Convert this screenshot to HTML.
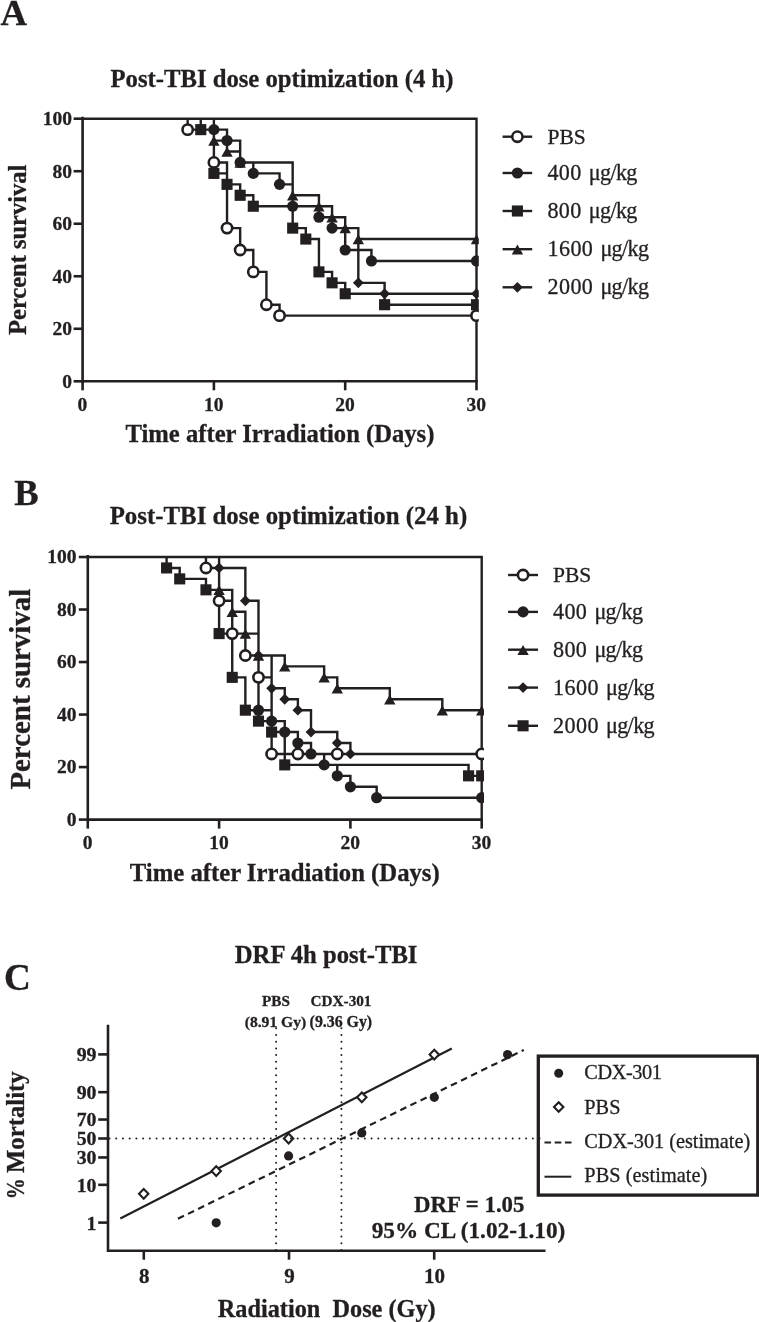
<!DOCTYPE html>
<html lang="en"><head><meta charset="utf-8"><title>Figure</title>
<style>
html,body{margin:0;padding:0;background:#fff;}
body{width:759px;height:1322px;overflow:hidden;font-family:"Liberation Serif", serif;}
svg{display:block;will-change:transform;}
text{font-family:"Liberation Serif", serif;fill:#231f20;white-space:pre;stroke:#231f20;stroke-width:0.3px;}
</style></head><body>
<svg width="759" height="1322" viewBox="0 0 759 1322">
<rect width="759" height="1322" fill="#fff"/>

<text x="0.40" y="25.20" style="font-size:36.80px;font-weight:bold">A</text>
<text x="14.20" y="504.70" style="font-size:36.60px;font-weight:bold">B</text>
<text x="4.00" y="989.60" style="font-size:37.20px;font-weight:bold">C</text>
<text x="110.50" y="87.00" style="font-size:24.70px;font-weight:bold">Post-TBI dose optimization (4 h)</text>
<path d="M82.60 118.70 H213.90 V140.58 H227.03 V151.53 H240.16 V162.47 H292.68 V195.29 H318.94 V206.23 H332.07 V217.18 H345.20 V228.12 H358.33 V282.83 H384.59 V293.77 H476.50 M82.60 118.70 H213.90 V140.58 H227.03 V151.53 H240.16 V162.47 H292.68 V195.29 H318.94 V206.23 H332.07 V217.18 H345.20 V228.12 H358.33 V239.06 H476.50 M82.60 118.70 H200.77 V129.64 H213.90 V173.41 H227.03 V184.35 H240.16 V195.29 H253.29 V206.23 H292.68 V228.12 H305.81 V239.06 H318.94 V271.88 H332.07 V282.83 H345.20 V293.77 H384.59 V304.71 H476.50 M82.60 118.70 H213.90 V129.64 H227.03 V140.58 H240.16 V162.47 H253.29 V173.41 H279.55 V184.35 H292.68 V206.23 H318.94 V217.18 H332.07 V228.12 H345.20 V250.00 H371.46 V260.94 H476.50 M82.60 118.70 H187.64 V129.64 H213.90 V162.47 H227.03 V228.12 H240.16 V250.00 H253.29 V271.88 H266.42 V304.71 H279.55 V315.65 H476.50 M82.60 118.70 H476.50 V381.30" fill="none" stroke="#231f20" stroke-width="2.4" stroke-linejoin="miter"/>
<clipPath id="cp1"><rect x="52.60" y="98.70" width="426.20" height="302.60"/></clipPath>
<g clip-path="url(#cp1)">
<path d="M358.33 277.43 L363.73 282.83 L358.33 288.23 L352.93 282.83Z" fill="#231f20"/>
<path d="M384.59 288.37 L389.99 293.77 L384.59 299.17 L379.19 293.77Z" fill="#231f20"/>
<path d="M476.50 288.37 L481.90 293.77 L476.50 299.17 L471.10 293.77Z" fill="#231f20"/>
<path d="M213.90 135.78 L219.60 145.78 L208.20 145.78Z" fill="#231f20"/>
<path d="M227.03 146.72 L232.73 156.72 L221.33 156.72Z" fill="#231f20"/>
<path d="M240.16 157.67 L245.86 167.67 L234.46 167.67Z" fill="#231f20"/>
<path d="M292.68 190.49 L298.38 200.49 L286.98 200.49Z" fill="#231f20"/>
<path d="M318.94 201.43 L324.64 211.43 L313.24 211.43Z" fill="#231f20"/>
<path d="M332.07 212.38 L337.77 222.38 L326.37 222.38Z" fill="#231f20"/>
<path d="M345.20 223.32 L350.90 233.32 L339.50 233.32Z" fill="#231f20"/>
<path d="M358.33 234.26 L364.03 244.26 L352.63 244.26Z" fill="#231f20"/>
<path d="M476.50 234.26 L482.20 244.26 L470.80 244.26Z" fill="#231f20"/>
<rect x="195.22" y="124.09" width="11.1" height="11.1" fill="#231f20"/>
<rect x="208.35" y="167.86" width="11.1" height="11.1" fill="#231f20"/>
<rect x="221.48" y="178.80" width="11.1" height="11.1" fill="#231f20"/>
<rect x="234.61" y="189.74" width="11.1" height="11.1" fill="#231f20"/>
<rect x="247.74" y="200.68" width="11.1" height="11.1" fill="#231f20"/>
<rect x="287.13" y="222.57" width="11.1" height="11.1" fill="#231f20"/>
<rect x="300.26" y="233.51" width="11.1" height="11.1" fill="#231f20"/>
<rect x="313.39" y="266.33" width="11.1" height="11.1" fill="#231f20"/>
<rect x="326.52" y="277.28" width="11.1" height="11.1" fill="#231f20"/>
<rect x="339.65" y="288.22" width="11.1" height="11.1" fill="#231f20"/>
<rect x="379.04" y="299.16" width="11.1" height="11.1" fill="#231f20"/>
<rect x="470.95" y="299.16" width="11.1" height="11.1" fill="#231f20"/>
<circle cx="213.90" cy="129.64" r="5.6" fill="#231f20"/>
<circle cx="227.03" cy="140.58" r="5.6" fill="#231f20"/>
<circle cx="240.16" cy="162.47" r="5.6" fill="#231f20"/>
<circle cx="253.29" cy="173.41" r="5.6" fill="#231f20"/>
<circle cx="279.55" cy="184.35" r="5.6" fill="#231f20"/>
<circle cx="292.68" cy="206.23" r="5.6" fill="#231f20"/>
<circle cx="318.94" cy="217.18" r="5.6" fill="#231f20"/>
<circle cx="332.07" cy="228.12" r="5.6" fill="#231f20"/>
<circle cx="345.20" cy="250.00" r="5.6" fill="#231f20"/>
<circle cx="371.46" cy="260.94" r="5.6" fill="#231f20"/>
<circle cx="476.50" cy="260.94" r="5.6" fill="#231f20"/>
<circle cx="187.64" cy="129.64" r="5.15" fill="#fff" stroke="#231f20" stroke-width="2.6"/>
<circle cx="213.90" cy="162.47" r="5.15" fill="#fff" stroke="#231f20" stroke-width="2.6"/>
<circle cx="227.03" cy="228.12" r="5.15" fill="#fff" stroke="#231f20" stroke-width="2.6"/>
<circle cx="240.16" cy="250.00" r="5.15" fill="#fff" stroke="#231f20" stroke-width="2.6"/>
<circle cx="253.29" cy="271.88" r="5.15" fill="#fff" stroke="#231f20" stroke-width="2.6"/>
<circle cx="266.42" cy="304.71" r="5.15" fill="#fff" stroke="#231f20" stroke-width="2.6"/>
<circle cx="279.55" cy="315.65" r="5.15" fill="#fff" stroke="#231f20" stroke-width="2.6"/>
<circle cx="476.50" cy="315.65" r="5.15" fill="#fff" stroke="#231f20" stroke-width="2.6"/>
</g>
<path d="M82.60 116.70 V381.30 H477.70" fill="none" stroke="#231f20" stroke-width="2.6" stroke-linejoin="miter"/>
<path d="M73.60 381.30 H82.60" stroke="#231f20" stroke-width="2.6"/>
<text x="62.35" y="387.70" style="font-size:19.50px;font-weight:bold">0</text>
<path d="M73.60 328.78 H82.60" stroke="#231f20" stroke-width="2.6"/>
<text x="52.60" y="335.18" style="font-size:19.50px;font-weight:bold">20</text>
<path d="M73.60 276.26 H82.60" stroke="#231f20" stroke-width="2.6"/>
<text x="52.60" y="282.66" style="font-size:19.50px;font-weight:bold">40</text>
<path d="M73.60 223.74 H82.60" stroke="#231f20" stroke-width="2.6"/>
<text x="52.60" y="230.14" style="font-size:19.50px;font-weight:bold">60</text>
<path d="M73.60 171.22 H82.60" stroke="#231f20" stroke-width="2.6"/>
<text x="52.60" y="177.62" style="font-size:19.50px;font-weight:bold">80</text>
<path d="M73.60 118.70 H82.60" stroke="#231f20" stroke-width="2.6"/>
<text x="42.85" y="125.10" style="font-size:19.50px;font-weight:bold">100</text>
<path d="M82.60 381.30 v9" stroke="#231f20" stroke-width="2.6"/>
<text x="77.52" y="411.30" style="font-size:19.50px;font-weight:bold">0</text>
<path d="M213.90 381.30 v9" stroke="#231f20" stroke-width="2.6"/>
<text x="203.95" y="411.30" style="font-size:19.50px;font-weight:bold">10</text>
<path d="M345.20 381.30 v9" stroke="#231f20" stroke-width="2.6"/>
<text x="335.25" y="411.30" style="font-size:19.50px;font-weight:bold">20</text>
<path d="M476.50 381.30 v9" stroke="#231f20" stroke-width="2.6"/>
<text x="466.55" y="411.30" style="font-size:19.50px;font-weight:bold">30</text>
<text transform="translate(26.00,334.90) rotate(-90)" style="font-size:24.48px;font-weight:bold">Percent survival</text>
<text x="125.50" y="442.40" style="font-size:24.63px;font-weight:bold">Time after Irradiation (Days)</text>
<path d="M502.6 136.7 H532.2" stroke="#231f20" stroke-width="2.4"/>
<circle cx="517.40" cy="136.70" r="5.15" fill="#fff" stroke="#231f20" stroke-width="2.6"/>
<text x="547.50" y="143.60" style="font-size:21.53px;font-weight:normal">PBS</text>
<path d="M502.6 173.0 H532.2" stroke="#231f20" stroke-width="2.4"/>
<circle cx="517.40" cy="173.00" r="5.6" fill="#231f20"/>
<text x="547.50" y="179.90" style="font-size:22.10px;font-weight:normal;letter-spacing:0.325px">400</text>
<text x="588.80" y="179.90" style="font-size:22.10px;font-weight:normal;letter-spacing:-0.635px">μg/kg</text>
<path d="M502.6 211 H532.2" stroke="#231f20" stroke-width="2.4"/>
<rect x="511.85" y="205.45" width="11.1" height="11.1" fill="#231f20"/>
<text x="547.50" y="217.90" style="font-size:22.10px;font-weight:normal;letter-spacing:0.325px">800</text>
<text x="588.80" y="217.90" style="font-size:22.10px;font-weight:normal;letter-spacing:-0.635px">μg/kg</text>
<path d="M502.6 249.2 H532.2" stroke="#231f20" stroke-width="2.4"/>
<path d="M517.40 244.40 L523.10 254.40 L511.70 254.40Z" fill="#231f20"/>
<text x="547.50" y="256.10" style="font-size:22.10px;font-weight:normal;letter-spacing:0.400px">1600</text>
<text x="600.40" y="256.10" style="font-size:22.10px;font-weight:normal;letter-spacing:-0.635px">μg/kg</text>
<path d="M502.6 287.3 H532.2" stroke="#231f20" stroke-width="2.4"/>
<path d="M517.40 281.90 L522.80 287.30 L517.40 292.70 L512.00 287.30Z" fill="#231f20"/>
<text x="547.50" y="294.20" style="font-size:22.10px;font-weight:normal;letter-spacing:0.400px">2000</text>
<text x="600.40" y="294.20" style="font-size:22.10px;font-weight:normal;letter-spacing:-0.635px">μg/kg</text>
<text x="109.70" y="524.30" style="font-size:24.85px;font-weight:bold">Post-TBI dose optimization (24 h)</text>
<path d="M87.80 557.00 H166.58 V567.94 H179.71 V578.88 H205.97 V589.83 H219.10 V633.59 H232.23 V677.36 H245.36 V710.18 H258.49 V721.12 H271.62 V732.07 H284.75 V764.89 H468.57 V775.83 H481.70 M87.80 557.00 H219.10 V567.94 H245.36 V600.77 H258.49 V655.48 H271.62 V688.30 H284.75 V699.24 H297.88 V710.18 H311.01 V732.07 H337.27 V743.01 H350.40 V753.95 H481.70 M87.80 557.00 H219.10 V589.83 H232.23 V611.71 H245.36 V633.59 H258.49 V655.48 H284.75 V666.42 H324.14 V677.36 H337.27 V688.30 H389.79 V699.24 H442.31 V710.18 H481.70 M87.80 557.00 H219.10 V567.94 H245.36 V600.77 H258.49 V710.18 H271.62 V721.12 H284.75 V732.07 H297.88 V743.01 H311.01 V753.95 H324.14 V764.89 H337.27 V775.83 H350.40 V786.78 H376.66 V797.72 H481.70 M87.80 557.00 H205.97 V567.94 H219.10 V600.77 H232.23 V633.59 H245.36 V655.48 H258.49 V677.36 H271.62 V753.95 H297.88 H337.27 H481.70 M87.80 557.00 H481.70 V819.60" fill="none" stroke="#231f20" stroke-width="2.4" stroke-linejoin="miter"/>
<clipPath id="cp2"><rect x="57.80" y="537.00" width="426.20" height="302.60"/></clipPath>
<g clip-path="url(#cp2)">
<rect x="161.03" y="562.39" width="11.1" height="11.1" fill="#231f20"/>
<rect x="174.16" y="573.33" width="11.1" height="11.1" fill="#231f20"/>
<rect x="200.42" y="584.28" width="11.1" height="11.1" fill="#231f20"/>
<rect x="213.55" y="628.04" width="11.1" height="11.1" fill="#231f20"/>
<rect x="226.68" y="671.81" width="11.1" height="11.1" fill="#231f20"/>
<rect x="239.81" y="704.63" width="11.1" height="11.1" fill="#231f20"/>
<rect x="252.94" y="715.58" width="11.1" height="11.1" fill="#231f20"/>
<rect x="266.07" y="726.52" width="11.1" height="11.1" fill="#231f20"/>
<rect x="279.20" y="759.34" width="11.1" height="11.1" fill="#231f20"/>
<rect x="463.02" y="770.28" width="11.1" height="11.1" fill="#231f20"/>
<rect x="476.15" y="770.28" width="11.1" height="11.1" fill="#231f20"/>
<path d="M219.10 562.54 L224.50 567.94 L219.10 573.34 L213.70 567.94Z" fill="#231f20"/>
<path d="M245.36 595.37 L250.76 600.77 L245.36 606.17 L239.96 600.77Z" fill="#231f20"/>
<path d="M258.49 650.08 L263.89 655.48 L258.49 660.88 L253.09 655.48Z" fill="#231f20"/>
<path d="M271.62 682.90 L277.02 688.30 L271.62 693.70 L266.22 688.30Z" fill="#231f20"/>
<path d="M284.75 693.84 L290.15 699.24 L284.75 704.64 L279.35 699.24Z" fill="#231f20"/>
<path d="M297.88 704.78 L303.28 710.18 L297.88 715.58 L292.48 710.18Z" fill="#231f20"/>
<path d="M311.01 726.67 L316.41 732.07 L311.01 737.47 L305.61 732.07Z" fill="#231f20"/>
<path d="M337.27 737.61 L342.67 743.01 L337.27 748.41 L331.87 743.01Z" fill="#231f20"/>
<path d="M350.40 748.55 L355.80 753.95 L350.40 759.35 L345.00 753.95Z" fill="#231f20"/>
<path d="M481.70 748.55 L487.10 753.95 L481.70 759.35 L476.30 753.95Z" fill="#231f20"/>
<path d="M219.10 585.03 L224.80 595.03 L213.40 595.03Z" fill="#231f20"/>
<path d="M232.23 606.91 L237.93 616.91 L226.53 616.91Z" fill="#231f20"/>
<path d="M245.36 628.79 L251.06 638.79 L239.66 638.79Z" fill="#231f20"/>
<path d="M258.49 650.68 L264.19 660.68 L252.79 660.68Z" fill="#231f20"/>
<path d="M284.75 661.62 L290.45 671.62 L279.05 671.62Z" fill="#231f20"/>
<path d="M324.14 672.56 L329.84 682.56 L318.44 682.56Z" fill="#231f20"/>
<path d="M337.27 683.50 L342.97 693.50 L331.57 693.50Z" fill="#231f20"/>
<path d="M389.79 694.44 L395.49 704.44 L384.09 704.44Z" fill="#231f20"/>
<path d="M442.31 705.38 L448.01 715.38 L436.61 715.38Z" fill="#231f20"/>
<path d="M481.70 705.38 L487.40 715.38 L476.00 715.38Z" fill="#231f20"/>
<circle cx="258.49" cy="710.18" r="5.6" fill="#231f20"/>
<circle cx="271.62" cy="721.12" r="5.6" fill="#231f20"/>
<circle cx="284.75" cy="732.07" r="5.6" fill="#231f20"/>
<circle cx="297.88" cy="743.01" r="5.6" fill="#231f20"/>
<circle cx="311.01" cy="753.95" r="5.6" fill="#231f20"/>
<circle cx="324.14" cy="764.89" r="5.6" fill="#231f20"/>
<circle cx="337.27" cy="775.83" r="5.6" fill="#231f20"/>
<circle cx="350.40" cy="786.78" r="5.6" fill="#231f20"/>
<circle cx="376.66" cy="797.72" r="5.6" fill="#231f20"/>
<circle cx="481.70" cy="797.72" r="5.6" fill="#231f20"/>
<circle cx="205.97" cy="567.94" r="5.15" fill="#fff" stroke="#231f20" stroke-width="2.6"/>
<circle cx="219.10" cy="600.77" r="5.15" fill="#fff" stroke="#231f20" stroke-width="2.6"/>
<circle cx="232.23" cy="633.59" r="5.15" fill="#fff" stroke="#231f20" stroke-width="2.6"/>
<circle cx="245.36" cy="655.48" r="5.15" fill="#fff" stroke="#231f20" stroke-width="2.6"/>
<circle cx="258.49" cy="677.36" r="5.15" fill="#fff" stroke="#231f20" stroke-width="2.6"/>
<circle cx="271.62" cy="753.95" r="5.15" fill="#fff" stroke="#231f20" stroke-width="2.6"/>
<circle cx="297.88" cy="753.95" r="5.15" fill="#fff" stroke="#231f20" stroke-width="2.6"/>
<circle cx="337.27" cy="753.95" r="5.15" fill="#fff" stroke="#231f20" stroke-width="2.6"/>
<circle cx="481.70" cy="753.95" r="5.15" fill="#fff" stroke="#231f20" stroke-width="2.6"/>
</g>
<path d="M87.80 555.00 V819.60 H482.90" fill="none" stroke="#231f20" stroke-width="2.6" stroke-linejoin="miter"/>
<path d="M78.80 819.60 H87.80" stroke="#231f20" stroke-width="2.6"/>
<text x="66.85" y="826.00" style="font-size:19.50px;font-weight:bold">0</text>
<path d="M78.80 767.08 H87.80" stroke="#231f20" stroke-width="2.6"/>
<text x="57.10" y="773.48" style="font-size:19.50px;font-weight:bold">20</text>
<path d="M78.80 714.56 H87.80" stroke="#231f20" stroke-width="2.6"/>
<text x="57.10" y="720.96" style="font-size:19.50px;font-weight:bold">40</text>
<path d="M78.80 662.04 H87.80" stroke="#231f20" stroke-width="2.6"/>
<text x="57.10" y="668.44" style="font-size:19.50px;font-weight:bold">60</text>
<path d="M78.80 609.52 H87.80" stroke="#231f20" stroke-width="2.6"/>
<text x="57.10" y="615.92" style="font-size:19.50px;font-weight:bold">80</text>
<path d="M78.80 557.00 H87.80" stroke="#231f20" stroke-width="2.6"/>
<text x="47.35" y="563.40" style="font-size:19.50px;font-weight:bold">100</text>
<path d="M87.80 819.60 v9" stroke="#231f20" stroke-width="2.6"/>
<text x="82.72" y="849.30" style="font-size:19.50px;font-weight:bold">0</text>
<path d="M219.10 819.60 v9" stroke="#231f20" stroke-width="2.6"/>
<text x="209.15" y="849.30" style="font-size:19.50px;font-weight:bold">10</text>
<path d="M350.40 819.60 v9" stroke="#231f20" stroke-width="2.6"/>
<text x="340.45" y="849.30" style="font-size:19.50px;font-weight:bold">20</text>
<path d="M481.70 819.60 v9" stroke="#231f20" stroke-width="2.6"/>
<text x="471.75" y="849.30" style="font-size:19.50px;font-weight:bold">30</text>
<text transform="translate(29.90,789.60) rotate(-90)" style="font-size:28.90px;font-weight:bold">Percent survival</text>
<text x="129.80" y="881.30" style="font-size:24.71px;font-weight:bold">Time after Irradiation (Days)</text>
<path d="M508.1 575.0 H538" stroke="#231f20" stroke-width="2.4"/>
<circle cx="523.05" cy="575.00" r="5.15" fill="#fff" stroke="#231f20" stroke-width="2.6"/>
<text x="553.00" y="581.90" style="font-size:21.53px;font-weight:normal">PBS</text>
<path d="M508.1 611.9 H538" stroke="#231f20" stroke-width="2.4"/>
<circle cx="523.05" cy="611.90" r="5.6" fill="#231f20"/>
<text x="553.00" y="618.80" style="font-size:22.10px;font-weight:normal;letter-spacing:0.375px">400</text>
<text x="594.40" y="618.80" style="font-size:22.10px;font-weight:normal;letter-spacing:-0.635px">μg/kg</text>
<path d="M508.1 649.7 H538" stroke="#231f20" stroke-width="2.4"/>
<path d="M523.05 644.90 L528.75 654.90 L517.35 654.90Z" fill="#231f20"/>
<text x="553.00" y="656.60" style="font-size:22.10px;font-weight:normal;letter-spacing:0.375px">800</text>
<text x="594.40" y="656.60" style="font-size:22.10px;font-weight:normal;letter-spacing:-0.635px">μg/kg</text>
<path d="M508.1 687.6 H538" stroke="#231f20" stroke-width="2.4"/>
<path d="M523.05 682.20 L528.45 687.60 L523.05 693.00 L517.65 687.60Z" fill="#231f20"/>
<text x="553.00" y="694.50" style="font-size:22.10px;font-weight:normal;letter-spacing:0.433px">1600</text>
<text x="606.00" y="694.50" style="font-size:22.10px;font-weight:normal;letter-spacing:-0.635px">μg/kg</text>
<path d="M508.1 725.8 H538" stroke="#231f20" stroke-width="2.4"/>
<rect x="517.50" y="720.25" width="11.1" height="11.1" fill="#231f20"/>
<text x="553.00" y="732.70" style="font-size:22.10px;font-weight:normal;letter-spacing:0.433px">2000</text>
<text x="606.00" y="732.70" style="font-size:22.10px;font-weight:normal;letter-spacing:-0.635px">μg/kg</text>
<text x="234.80" y="962.90" style="font-size:24.67px;font-weight:bold">DRF 4h post-TBI</text>
<path d="M276.1 1250 V1022 M341.4 1250 V1022" fill="none" stroke="#231f20" stroke-width="2.0" stroke-linecap="round" stroke-dasharray="0.01 6.71"/>
<path d="M120.3 1218.5 L451.8 1048.5" stroke="#231f20" stroke-width="2.2" fill="none"/>
<path d="M177.9 1218.8 L523.8 1050" stroke="#231f20" stroke-width="2.2" fill="none" stroke-dasharray="6.7 4.55"/>
<path d="M108.0 1024.8 V1250.7 H545.5" fill="none" stroke="#231f20" stroke-width="2.6" stroke-linejoin="miter"/>
<path d="M98.2 1054.40 H108" stroke="#231f20" stroke-width="2.6"/>
<text x="76.70" y="1061.30" style="font-size:19.80px;font-weight:bold">99</text>
<path d="M98.2 1092.17 H108" stroke="#231f20" stroke-width="2.6"/>
<text x="76.70" y="1099.07" style="font-size:19.80px;font-weight:bold">90</text>
<path d="M98.2 1119.54 H108" stroke="#231f20" stroke-width="2.6"/>
<text x="76.70" y="1126.44" style="font-size:19.80px;font-weight:bold">70</text>
<path d="M98.2 1138.50 H108" stroke="#231f20" stroke-width="2.6"/>
<text x="76.70" y="1145.40" style="font-size:19.80px;font-weight:bold">50</text>
<path d="M98.2 1157.46 H108" stroke="#231f20" stroke-width="2.6"/>
<text x="76.70" y="1164.36" style="font-size:19.80px;font-weight:bold">30</text>
<path d="M98.2 1184.83 H108" stroke="#231f20" stroke-width="2.6"/>
<text x="76.70" y="1191.73" style="font-size:19.80px;font-weight:bold">10</text>
<path d="M98.2 1222.60 H108" stroke="#231f20" stroke-width="2.6"/>
<text x="86.60" y="1229.50" style="font-size:19.80px;font-weight:bold">1</text>
<path d="M143.80 1250.7 v9" stroke="#231f20" stroke-width="2.6"/>
<text x="138.95" y="1283.20" style="font-size:21.00px;font-weight:bold">8</text>
<path d="M289.00 1250.7 v9" stroke="#231f20" stroke-width="2.6"/>
<text x="284.15" y="1283.20" style="font-size:21.00px;font-weight:bold">9</text>
<path d="M434.20 1250.7 v9" stroke="#231f20" stroke-width="2.6"/>
<text x="424.10" y="1283.20" style="font-size:21.00px;font-weight:bold">10</text>
<path d="M143.70 1188.90 L148.40 1193.80 L143.70 1198.70 L139.00 1193.80Z" fill="#fff" stroke="#231f20" stroke-width="2.1"/>
<path d="M216.20 1166.20 L220.90 1171.10 L216.20 1176.00 L211.50 1171.10Z" fill="#fff" stroke="#231f20" stroke-width="2.1"/>
<path d="M288.60 1133.60 L293.30 1138.50 L288.60 1143.40 L283.90 1138.50Z" fill="#fff" stroke="#231f20" stroke-width="2.1"/>
<path d="M361.80 1092.40 L366.50 1097.30 L361.80 1102.20 L357.10 1097.30Z" fill="#fff" stroke="#231f20" stroke-width="2.1"/>
<path d="M434.30 1049.70 L439.00 1054.60 L434.30 1059.50 L429.60 1054.60Z" fill="#fff" stroke="#231f20" stroke-width="2.1"/>
<circle cx="216.20" cy="1222.80" r="4.6" fill="#231f20"/>
<circle cx="288.60" cy="1155.90" r="4.6" fill="#231f20"/>
<circle cx="361.80" cy="1132.90" r="4.6" fill="#231f20"/>
<circle cx="434.30" cy="1097.30" r="4.6" fill="#231f20"/>
<circle cx="507.60" cy="1054.60" r="4.6" fill="#231f20"/>
<text x="262.06" y="1006.40" style="font-size:15.20px;font-weight:bold">PBS</text>
<text x="244.70" y="1026.50" style="font-size:15.62px;font-weight:bold">(8.91 Gy)</text>
<text x="310.60" y="1006.40" style="font-size:15.22px;font-weight:bold">CDX-301</text>
<text x="309.60" y="1026.50" style="font-size:15.87px;font-weight:bold">(9.36 Gy)</text>
<text x="414.00" y="1211.60" style="font-size:22.84px;font-weight:bold">DRF = 1.05</text>
<text x="371.70" y="1237.90" style="font-size:23.24px;font-weight:bold">95% CL (1.02-1.10)</text>
<text transform="translate(23.60,1173.10) rotate(-90)" style="font-size:24.77px;font-weight:bold">Mortality</text>
<text transform="translate(23.6,1199.2) rotate(-90)" style="font-size:24.7px;font-weight:bold" textLength="21" lengthAdjust="spacingAndGlyphs">%</text>
<text x="217.80" y="1317.20" style="font-size:24.29px;font-weight:bold">Radiation  Dose (Gy)</text>
<rect x="538.3" y="1056.1" width="219.5" height="139" fill="#fff" stroke="#231f20" stroke-width="3.3"/>
<path d="M109.5 1138.5 H544.5" fill="none" stroke="#231f20" stroke-width="2.0" stroke-linecap="round" stroke-dasharray="0.01 6.71"/>
<circle cx="558.70" cy="1073.20" r="4.5" fill="#231f20"/>
<path d="M558.70 1102.30 L563.40 1107.00 L558.70 1111.70 L554.00 1107.00Z" fill="#fff" stroke="#231f20" stroke-width="2.1"/>
<path d="M544.5 1142.6 H571.5" stroke="#231f20" stroke-width="2" stroke-dasharray="6.6 3.6"/>
<path d="M544.5 1176.7 H571.3" stroke="#231f20" stroke-width="2"/>
<text x="584.30" y="1079.20" style="font-size:20.30px;font-weight:normal;letter-spacing:-0.411px">CDX-301</text>
<text x="584.30" y="1113.90" style="font-size:20.30px;font-weight:normal;letter-spacing:0.043px">PBS</text>
<text x="584.30" y="1148.00" style="font-size:20.30px;font-weight:normal;letter-spacing:-0.018px">CDX-301 (estimate)</text>
<text x="584.30" y="1181.80" style="font-size:20.30px;font-weight:normal;letter-spacing:0.058px">PBS (estimate)</text>
</svg></body></html>
